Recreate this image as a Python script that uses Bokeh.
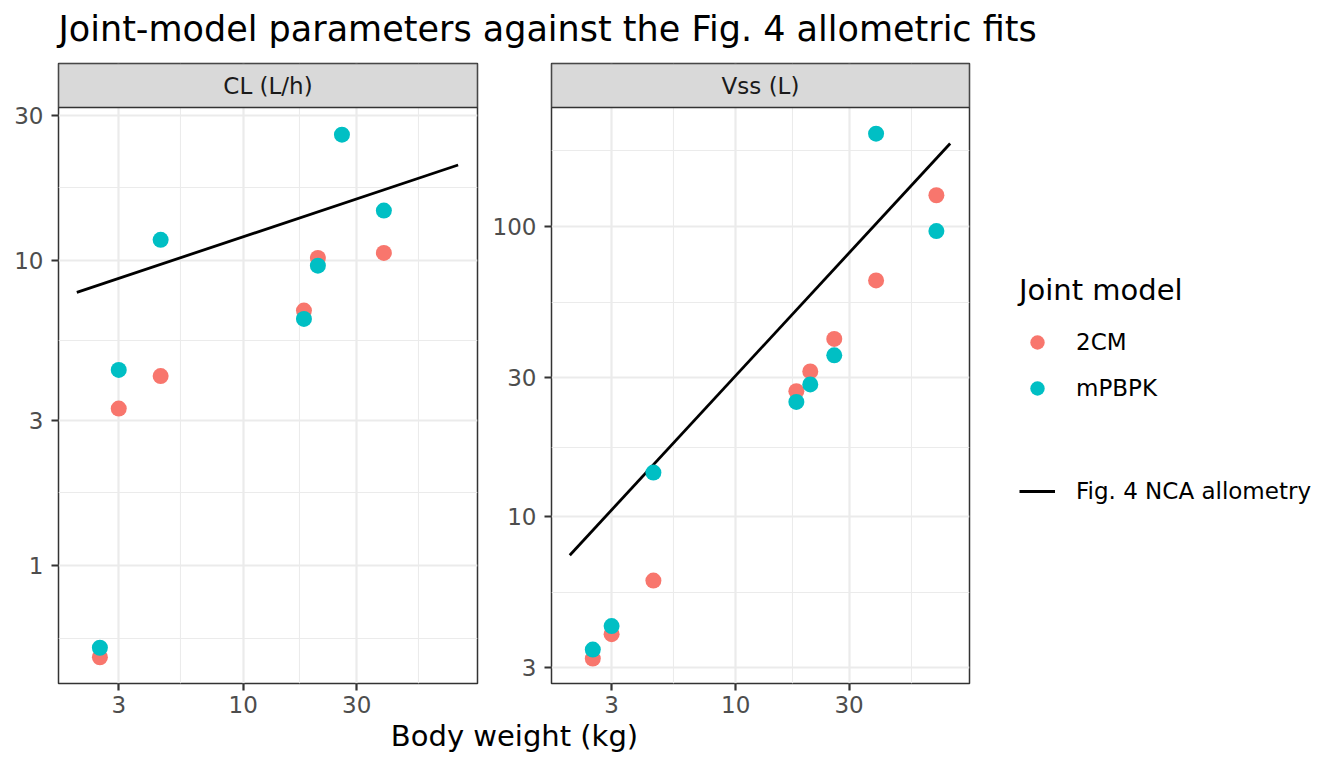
import numpy as np
from bokeh.plotting import figure
from bokeh.models import Range1d, FixedTicker, ColumnDataSource, Legend, LegendItem, BasicTickFormatter
from bokeh.layouts import row, column
from bokeh.core.properties import value
from bokeh.embed import file_html
from bokeh.resources import INLINE

# ---------------- data ----------------
weight_kg = [2.5, 3.0, 4.5, 18.0, 20.6, 26.0, 39.0, 70.0]
cl_2cm    = [0.50, 3.27, 4.18, 6.86, 10.2, float("nan"), 10.6, float("nan")]
cl_mpbpk  = [0.537, 4.38, 11.7, 6.44, 9.63, 25.9, 14.6, float("nan")]
vss_2cm   = [3.23, 3.92, 6.00, 27.0, 31.6, 40.9, 65.1, 128.0]
vss_mpbpk = [3.47, 4.18, 14.15, 24.8, 28.5, 35.9, 208.8, 96.3]

fit_wt  = [2.0, 80.0]
cl_fit  = [7.87, 20.6]
vss_fit = [7.34, 193.0]

facet_labels = ["CL (L/h)", "Vss (L)"]
series_labels = ["2CM", "mPBPK"]
line_label = "Fig. 4 NCA allometry"
legend_title = "Joint model"
title_text = "Joint-model parameters against the Fig. 4 allometric fits"
x_title = "Body weight (kg)"

x_ticks = [3, 10, 30]
cl_ticks = [1, 3, 10, 30]
vss_ticks = [3, 10, 30, 100]

# ---------------- style ----------------
RED = "#F8766D"
TEAL = "#00BFC4"
FONT = "DejaVu Sans"
TICK_FS = "23px"
STRIP_FS = "23px"
TITLE_FS = "35px"
AXT_FS = "29px"
LEG_T_FS = "29px"
LEG_L_FS = "23px"

W, H = 1344, 768
TOP_H = 62          # title band
STRIP_PX = 44       # strip height
PANEL_PX = 576      # panel height
BOT_B = 41          # bottom axis band
ROW_H = 1 + STRIP_PX + PANEL_PX + BOT_B
OVERLAP = 8         # x-title band tucks under the axis band
BOT_H = H - TOP_H - ROW_H + OVERLAP
X_LIM = (1.675, 96.5)


def minor_for(ticks):
    # ggplot-style minor breaks: midpoints of breaks, extended by the first step
    lv = list(np.log10(ticks))
    step = lv[1] - lv[0]
    ext = [lv[0] - step] + lv + [lv[-1] + step]
    return [float(10 ** ((a + b) / 2)) for a, b in zip(ext[:-1], ext[1:])]


def valid(xs, ys):
    xs = np.asarray(xs, float)
    ys = np.asarray(ys, float)
    m = ~np.isnan(ys)
    return dict(x=list(xs[m]), y=list(ys[m]))


def panel(label, y_red, y_teal, y_fit, ylim, yticks, fw, lb, rb):
    lo, hi = np.log10(ylim[0]), np.log10(ylim[1])
    top = 10 ** (hi + (hi - lo) * STRIP_PX / PANEL_PX)   # strip band above the panel
    p = figure(width=lb + fw + rb, height=ROW_H, x_axis_type="log", y_axis_type="log",
               x_range=Range1d(*X_LIM), y_range=Range1d(ylim[0], top),
               toolbar_location=None, output_backend="svg",
               min_border_left=lb, min_border_right=rb, min_border_top=1,
               min_border_bottom=BOT_B)
    p.background_fill_color = "white"
    p.border_fill_color = "white"
    p.outline_line_color = "#333333"
    p.outline_line_width = 1.5

    p.xaxis.ticker = FixedTicker(ticks=x_ticks, minor_ticks=minor_for(x_ticks))
    p.yaxis.ticker = FixedTicker(ticks=yticks, minor_ticks=minor_for(yticks))
    for ax, tk, so in ((p.xaxis, x_ticks, 5), (p.yaxis, yticks, 8)):
        ax.formatter = BasicTickFormatter()
        ax.major_label_overrides = {t: str(t) for t in tk}
        ax.axis_line_color = None
        ax.major_tick_line_color = "#333333"
        ax.major_tick_line_width = 2.2
        ax.major_tick_in = 0
        ax.major_tick_out = 7
        ax.minor_tick_line_color = None
        ax.major_label_text_font = FONT
        ax.major_label_text_font_size = TICK_FS
        ax.major_label_text_color = "#4D4D4D"
        ax.major_label_standoff = so
    for g in (p.xgrid, p.ygrid):
        g.grid_line_color = "#EBEBEB"
        g.grid_line_width = 2.2
        g.minor_grid_line_color = "#EBEBEB"
        g.minor_grid_line_width = 1.1

    p.line(x=fit_wt, y=y_fit, line_color="black", line_width=2.8)
    p.scatter(source=ColumnDataSource(valid(weight_kg, y_red)), x="x", y="y",
              size=16, fill_color=RED, line_color=None)
    p.scatter(source=ColumnDataSource(valid(weight_kg, y_teal)), x="x", y="y",
              size=16, fill_color=TEAL, line_color=None)

    # facet strip
    p.quad(left=[X_LIM[0]], right=[X_LIM[1]], bottom=[ylim[1]], top=[top],
           fill_color="#D9D9D9", line_color="#333333", line_width=1.5)
    p.text(x=[float(np.sqrt(X_LIM[0] * X_LIM[1]))], y=[float(np.sqrt(ylim[1] * top))],
           text=[label], text_align="center", text_baseline="middle",
           text_font=value(FONT), text_font_size=STRIP_FS, text_color="#1A1A1A")
    return p


# ---------------- layout pieces ----------------
topf = figure(width=W, height=TOP_H, x_range=Range1d(0, W), y_range=Range1d(TOP_H, 0),
              x_axis_type=None, y_axis_type=None, toolbar_location=None,
              output_backend="svg", min_border=0)
topf.outline_line_color = None
topf.text(x=[58], y=[28], text=[title_text], text_align="left", text_baseline="middle",
          text_font=value(FONT), text_font_size=TITLE_FS, text_color="black")

LB1, FW1, RB1 = 58, 419, 10
LB2, FW2, RB2 = 64, 418, 21

mainL = panel(facet_labels[0], cl_2cm, cl_mpbpk, cl_fit, (0.41, 31.8), cl_ticks, FW1, LB1, RB1)
mainR = panel(facet_labels[1], vss_2cm, vss_mpbpk, vss_fit, (2.65, 257.0), vss_ticks, FW2, LB2, RB2)

LW = W - (LB1 + FW1 + RB1) - (LB2 + FW2 + RB2)
lf = figure(width=LW, height=ROW_H, x_range=Range1d(0, 1), y_range=Range1d(0, 1),
            x_axis_type=None, y_axis_type=None, toolbar_location=None,
            output_backend="svg", min_border=0)
lf.outline_line_color = None
# legend proxies: one real point each, lying outside this blank panel's range
r_red = lf.scatter(x=weight_kg[:1], y=cl_2cm[:1], size=16, fill_color=RED, line_color=None)
r_teal = lf.scatter(x=weight_kg[:1], y=cl_mpbpk[:1], size=16, fill_color=TEAL, line_color=None)
r_line = lf.line(x=fit_wt, y=cl_fit, line_color="black", line_width=2.8)


def style_leg(leg):
    leg.padding = 0
    leg.margin = 0
    leg.spacing = 0
    leg.border_line_color = None
    leg.background_fill_alpha = 0
    leg.glyph_width = 36
    leg.glyph_height = 46
    leg.label_height = 46
    leg.label_standoff = 21
    leg.label_text_font = FONT
    leg.label_text_font_size = LEG_L_FS
    leg.label_text_color = "black"
    leg.title_text_font = FONT
    leg.title_text_font_size = LEG_T_FS
    leg.title_text_font_style = "normal"
    leg.title_text_color = "black"
    leg.title_standoff = 12


leg1 = Legend(items=[LegendItem(label=series_labels[0], renderers=[r_red]),
                     LegendItem(label=series_labels[1], renderers=[r_teal])],
              title=legend_title, location=(29, 272))
style_leg(leg1)
leg2 = Legend(items=[LegendItem(label=line_label, renderers=[r_line])],
              location=(29, 169))
style_leg(leg2)
lf.add_layout(leg1)
lf.add_layout(leg2)

bottom = figure(width=W, height=BOT_H, x_range=Range1d(0, W), y_range=Range1d(BOT_H, 0),
                x_axis_type=None, y_axis_type=None, toolbar_location=None,
                output_backend="svg", min_border=0, margin=(-OVERLAP, 0, 0, 0))
bottom.outline_line_color = None
bottom.background_fill_alpha = 0
bottom.border_fill_alpha = 0
bottom.text(x=[514], y=[735 - (TOP_H + ROW_H - OVERLAP)], text=[x_title], text_align="center",
            text_baseline="middle", text_font=value(FONT), text_font_size=AXT_FS,
            text_color="black")

layout = column(topf, row(mainL, mainR, lf), bottom)

open("out.html", "w").write(file_html(layout, INLINE))
